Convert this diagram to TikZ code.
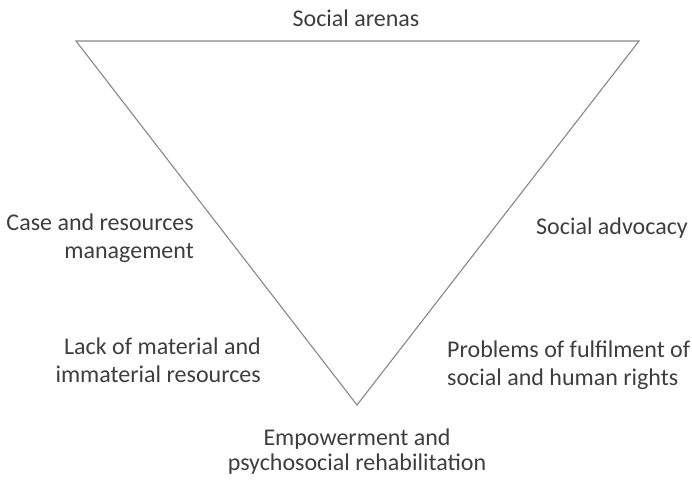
\documentclass[tikz,border=0pt]{standalone}
\usepackage{fontspec}
\setmainfont{Carlito}
\usepackage{xcolor}
\usepackage{tikz}
\usetikzlibrary{positioning}

\definecolor{edgegray}{RGB}{135,135,135}
\definecolor{labelgray}{RGB}{62,62,62}

\tikzset{
  lbl/.style={inner sep=0pt,text=labelgray,font=\fontsize{24}{28}\selectfont},
  side/.style={draw=edgegray,line width=1.1pt,line join=miter}
}

\begin{document}
\begin{tikzpicture}[x=1pt,y=-1pt]
\useasboundingbox (0,0) rectangle (692,479);
% corners of the funnel
\coordinate (tl) at (76,41);
\coordinate (tr) at (639,41);
\coordinate (bt) at (357,405);
\draw[side] (tl) -- (tr) -- (bt) -- cycle;

% two-line labels sit on the baseline of their last line
\node[lbl,anchor=base] (arenas) at (356,26) {Social arenas};
\node[lbl,anchor=base east,align=right] (casemgmt) at (194,258) {Case and resources\\management};
\node[lbl,anchor=base east] (advocacy) at (688,234) {Social advocacy};
\node[lbl,anchor=base east,align=right] (lack) at (261,382) {Lack of material and\\immaterial resources};
\node[lbl,anchor=base west,align=left] (problems) at (447,385) {Problems of fulfilment of\\social and human rights};
\node[lbl,anchor=base,align=center,font=\fontsize{24}{25}\selectfont] (empower) at (357,470) {Empowerment and\\psychosocial rehabilitation};
\end{tikzpicture}
\end{document}
